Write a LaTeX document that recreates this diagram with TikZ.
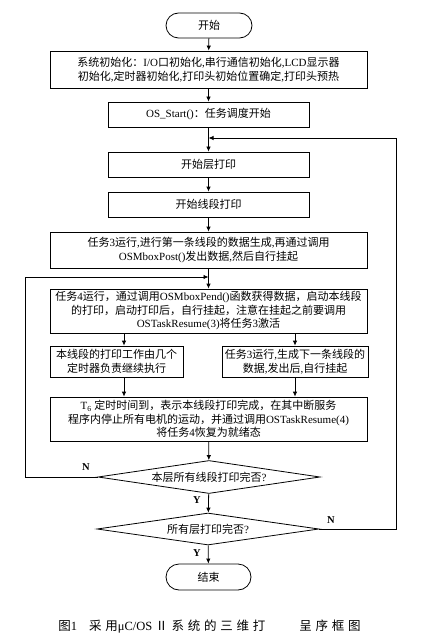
\documentclass[tikz,border=0pt]{standalone}
\usepackage{fontspec}
\setmainfont{Liberation Serif}
\newfontfamily\zhfont{Noto Sans CJK SC}
\newfontfamily\zhcapfont{Noto Sans CJK SC}[LetterSpace=30]
\usetikzlibrary{shapes.geometric,arrows.meta}
% automatic switch to the CJK font for CJK characters
\def\zhsel{\zhfont}
\def\latsel{\rmfamily}
\XeTeXinterchartokenstate=1
\newXeTeXintercharclass\zhclass
\newcount\zhc
\def\zhrange#1#2{\zhc=#1\relax\loop\ifnum\zhc<#2\relax\XeTeXcharclass\zhc=\zhclass\advance\zhc by 1\repeat}
\zhrange{"4E00}{"A000}
\zhrange{"3000}{"3040}
\zhrange{"FF00}{"FFF0}
\zhrange{"2160}{"2170}
\XeTeXinterchartoks 0 \zhclass = {\zhsel}
\XeTeXinterchartoks 4095 \zhclass = {\zhsel}
\XeTeXinterchartoks \zhclass 0 = {\latsel}
\newcommand\fsz{\fontsize{11}{13.5}\selectfont}
\begin{document}
\begin{tikzpicture}[x=1pt,y=-1pt,
  box/.style={draw,line width=0.8pt,inner sep=0pt,align=center,font=\fsz},
  term/.style={box,rounded corners=12.5pt,minimum width=86pt,minimum height=25pt},
  dec/.style={draw,line width=0.8pt,diamond,aspect=6.7,inner sep=0pt,font=\fsz,minimum width=222pt,minimum height=33pt},
  arr/.style={line width=0.8pt,-{Latex[length=5pt,width=4.5pt]}},
  lbl/.style={font=\fontsize{10.5}{12}\selectfont\bfseries}]
\useasboundingbox[fill=white] (0,0) rectangle (428,639);
\node[term] (start) at (209,25.5) {开始};
\node[box,minimum width=317pt,minimum height=37pt] (init) at (208.5,69.5)
  {系统初始化：I/O口初始化,串行通信初始化,LCD显示器\\初始化,定时器初始化,打印头初始位置确定,打印头预热};
\node[box,minimum width=201pt,minimum height=25pt] (osstart) at (208.5,114.5) {OS\_Start()：任务调度开始};
\node[box,minimum width=201pt,minimum height=25pt] (layer) at (208.5,164.5) {开始层打印};
\node[box,minimum width=201pt,minimum height=25pt] (seg) at (208.5,204.5) {开始线段打印};
\node[box,minimum width=317pt,minimum height=36pt] (task3) at (208.5,250)
  {任务3运行,进行第一条线段的数据生成,再通过调用\\OSMboxPost()发出数据,然后自行挂起};
\node[box,minimum width=317pt,minimum height=44pt] (task4) at (208.5,311)
  {任务4运行，通过调用OSMboxPend()函数获得数据，启动本线段\\的打印，启动打印后，自行挂起，注意在挂起之前要调用\\OSTaskResume(3)将任务3激活};
\node[box,minimum width=133pt,minimum height=31pt] (lb) at (116.5,361.5)
  {本线段的打印工作由几个\\定时器负责继续执行};
\node[box,minimum width=146pt,minimum height=31pt] (rb) at (295,361.5)
  {任务3运行,生成下一条线段的\\数据,发出后,自行挂起};
\node[box,minimum width=317pt,minimum height=44pt] (t6) at (208.5,419)
  {T\textsubscript{6} 定时时间到，表示本线段打印完成，在其中断服务\\程序内停止所有电机的运动，并通过调用OSTaskResume(4)\\将任务4恢复为就绪态};
\node[dec] (d1) at (209,477) {本层所有线段打印完否?};
\node[dec,minimum height=32pt] (d2) at (208,529) {所有层打印完否?};
\node[term,minimum width=85pt,minimum height=26pt,rounded corners=13pt] (end) at (208.5,577) {结束};
\node[font=\fontsize{12.5}{14}\selectfont] (cap) at (209.5,627)
  {\def\zhsel{\zhcapfont}图1\hspace{12pt}采用μC/OS Ⅱ系统的三维打\hspace{34pt}呈序框图};
% auxiliary coordinates
\coordinate (ax) at (124,0);
\coordinate (bx) at (295,0);
\coordinate (Lx) at (25,0);
\coordinate (Rx) at (396,0);
\coordinate (Ly) at (0,277);
\coordinate (Ry) at (0,138);
% main flow
\draw[arr] (start) -- (init);
\draw[arr] (init) -- (osstart);
\draw[arr] (osstart) -- (layer);
\draw[arr] (layer) -- (seg);
\draw[arr] (seg) -- (task3);
\draw[arr] (task3) -- (task4);
\draw[arr] (ax |- task4.south) -- (ax |- lb.north);
\draw[arr] (bx |- task4.south) -- (bx |- rb.north);
\draw[arr] (ax |- lb.south) -- (ax |- t6.north);
\draw[arr] (bx |- rb.south) -- (bx |- t6.north);
\draw[arr] (t6) -- (d1);
\draw[arr] (d1) -- (d2);
\draw[arr] (d2) -- (end);
% loops
\draw[arr] (d1.west) -| (Lx |- Ly) -- (task3.south |- Ly);
\draw[arr] (d2.east) -| (Rx |- Ry) -- (osstart.south |- Ry);
% labels
\node[lbl] (n1) at (86,467) {N};
\node[lbl] (y1) at (197,500) {Y};
\node[lbl] (n2) at (331,520) {N};
\node[lbl] (y2) at (197,553) {Y};
\end{tikzpicture}
\end{document}
